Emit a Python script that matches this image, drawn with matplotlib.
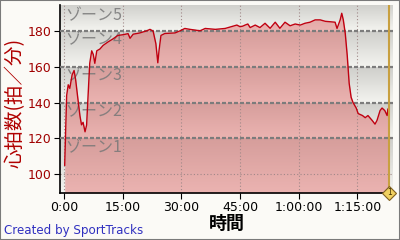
import numpy as np
import matplotlib
matplotlib.use('Agg')
import matplotlib.pyplot as plt
from matplotlib.colors import LinearSegmentedColormap
from matplotlib.ticker import FuncFormatter
from matplotlib.patches import Rectangle

plt.rcParams['font.family'] = ['DejaVu Sans', 'Noto Sans CJK JP']

# heart rate trace (minutes, bpm)
minutes = [0.2, 0.7, 1.1, 1.5, 2.1, 2.6, 3.0, 3.5, 4.1, 4.5, 4.9, 5.4, 5.8,
           6.2, 6.6, 7.1, 7.5, 7.9, 8.4, 9.2, 10.0, 11.3, 12.5, 13.8, 15.1,
           16.4, 16.9, 17.7, 19.4, 21.2, 22.0, 22.8, 23.5, 24.0, 24.3, 24.8,
           25.8, 28.4, 29.7, 30.9, 32.2, 34.8, 36.1, 38.7, 41.2, 44.2, 45.0,
           45.7, 46.3, 47.0, 47.6, 48.9, 50.1, 51.4, 52.7, 54.0, 55.2, 56.5,
           57.8, 59.1, 60.4, 61.6, 62.9, 64.2, 65.5, 66.8, 69.3, 69.8, 70.6,
           71.0, 71.4, 71.9, 72.4, 72.9, 73.4, 73.9, 74.7, 75.2, 76.3, 77.0,
           77.7, 78.8, 79.5, 80.0, 80.8, 81.3, 82.0, 82.6, 82.8, 83.1]
heart_rate = [105, 144, 150, 148, 155.6, 158, 152.8, 143.5, 132.6, 127.6, 129,
              123.7, 127.5, 145, 162, 169, 167, 162, 169, 170, 172, 174, 175.6,
              177.6, 178, 178.6, 176, 178.3, 179, 180.2, 181, 180, 173, 162.3,
              169, 177.6, 178.7, 179, 180.2, 181.5, 181, 180.2, 181.5, 181,
              181.5, 183.4, 182.5, 182.8, 183.4, 184, 182, 183.4, 182, 184.4,
              181.6, 185, 181.6, 185, 183, 184, 183.4, 184.4, 185, 186.3,
              186.3, 185.5, 185, 181.5, 186.3, 190, 186.3, 178.7, 166.5, 150.8,
              143, 140, 137, 133.9, 132.8, 131.6, 132.8, 130, 128, 130, 135.6,
              137, 135.6, 132.8, 136.5, 135]

zone_bounds = [120, 140, 160, 180]
zone_names = ['ゾーン1', 'ゾーン2', 'ゾーン3', 'ゾーン4', 'ゾーン5']
y_ticks = [100, 120, 140, 160, 180]
x_ticks = [0, 15, 30, 45, 60, 75]
lap_marks = [83.1]

xmin, xmax = -1.0, 84.1
ymin, ymax = 89.5, 194.6


def fmt_time(v, pos):
    total = int(round(v * 60))
    h, rem = divmod(total, 3600)
    m, s = divmod(rem, 60)
    if h:
        return f'{h}:{m:02d}:{s:02d}'
    return f'{m}:{s:02d}'


fig = plt.figure(figsize=(4, 2.4), dpi=100, facecolor='#fbfaf6')
fig.patches.append(Rectangle((0, 0), 1, 1, transform=fig.transFigure,
                             fill=False, edgecolor='#7a7a7a', lw=1.5))
ax = fig.add_axes([0.15, 0.196, 0.8325, 0.783])

# grey gradient in every zone band, darker at the top of the band
band_cmap = LinearSegmentedColormap.from_list('band', ['#cfcfcb', '#f4f4f0'])
edges = [ymin] + zone_bounds + [ymax]
grad = np.linspace(0, 1, 64).reshape(-1, 1)
for lo, hi in zip(edges[:-1], edges[1:]):
    ax.imshow(grad, cmap=band_cmap, aspect='auto', origin='upper',
              extent=[xmin, xmax, lo, hi], zorder=0, interpolation='bilinear')

ax.fill_between(minutes, heart_rate, ymin, color='#e05a5a', alpha=0.42,
                lw=0, zorder=1)
ax.plot(minutes, heart_rate, color='#c00010', lw=1.0, zorder=4)

for b in zone_bounds:
    ax.axhline(b, color='#7c7c7c', lw=1.6, ls=(0, (1.8, 0.9)), zorder=3)
ax.axhline(100, color='#a08888', lw=0.8, ls=(0, (1, 2)), zorder=2)
for t in x_ticks:
    ax.axvline(t, color='#a08888', lw=0.8, ls=(0, (1, 2)), zorder=2)

centers = [b - 5 for b in zone_bounds] + [188.5]
for name, c in zip(zone_names, centers):
    ax.text(0.3, c, name, fontsize=11.5, color='#787878', alpha=0.85,
            ha='left', va='center', family=['Noto Sans CJK JP'], zorder=3)

for lap in lap_marks:
    ax.axvline(lap, color='#c8a040', lw=1.5, zorder=5)
    ax.plot(lap, ymin, marker='D', ms=7, mfc='#f0d060', mec='#806020',
            mew=0.8, clip_on=False, zorder=6)
    ax.text(lap, ymin, '1', fontsize=5.5, ha='center', va='center',
            color='#403000', zorder=7, clip_on=False)

ax.set_xlim(xmin, xmax)
ax.set_ylim(ymin, ymax)
ax.set_xticks(x_ticks)
ax.set_yticks(y_ticks)
ax.xaxis.set_major_formatter(FuncFormatter(fmt_time))
ax.tick_params(axis='y', labelsize=9, labelcolor='#a00000', length=4,
               color='black', pad=2)
ax.tick_params(axis='x', labelsize=9, labelcolor='black', length=4,
               color='black', pad=2)
for side in ['top', 'right']:
    ax.spines[side].set_visible(False)
for side in ['left', 'bottom']:
    ax.spines[side].set_linewidth(1.2)

fig.text(0.0375, 0.57, '心拍数(拍／分)', rotation=90, fontsize=14,
         color='#b00000', ha='center', va='center',
         family=['Noto Sans CJK JP', 'DejaVu Sans'])
fig.text(0.567, 0.068, '時間', fontsize=13, fontweight='bold', color='black',
         ha='center', va='center', family=['Noto Sans CJK JP'])
fig.text(0.01, 0.04, 'Created by SportTracks', fontsize=8.6, color='#3030c0',
         ha='left', va='center')

fig.savefig('out.png', dpi=100, facecolor=fig.get_facecolor())
